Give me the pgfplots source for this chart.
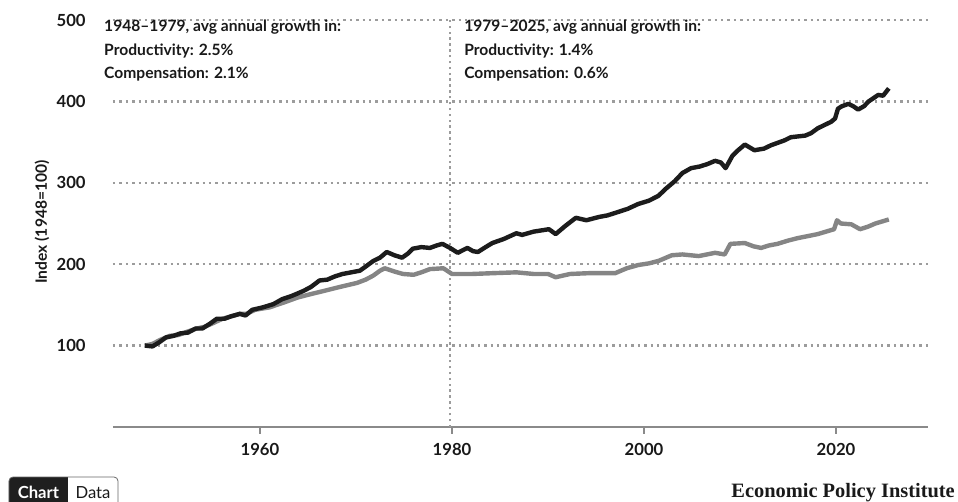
\documentclass[border=0pt]{standalone}
\usepackage{pgfplots}
\pgfplotsset{compat=1.18}
\usepackage{fontspec}
\setmainfont{Lato}
\newfontfamily\logofont{Liberation Serif}
\definecolor{prodc}{HTML}{1C1C1C}
\definecolor{compc}{HTML}{858585}
\definecolor{gridc}{HTML}{9C9C9C}
\definecolor{axc}{HTML}{8A8A8A}
\begin{document}
\begin{tikzpicture}
\path[use as bounding box] (-84.75pt,-55.5pt) rectangle (633.75pt,320.25pt);
\begin{axis}[
  at={(0,0)}, anchor=south west,
  scale only axis, width=611.25pt, height=305.25pt,
  xmin=1944.69, xmax=2029.58, ymin=0, ymax=500,
  axis x line*=bottom, axis y line*=left,
  x axis line style={draw=axc, line width=0.9pt},
  y axis line style={draw=none},
  xtick={1960,1980,2000,2020},
  ytick={100,200,300,400,500},
  xtick style={draw=axc, line width=0.9pt},
  ytick style={draw=none},
  tick align=outside,
  major tick length=5pt,
  ymajorgrids,
  grid style={draw=gridc, line width=1.8pt, dash pattern=on 1.8pt off 3pt},
  /pgf/number format/assume math mode=true,
  /pgf/number format/1000 sep={},
  tick label style={font=\fontsize{12.5}{14}\selectfont\bfseries, text=black!90},
  xticklabel style={yshift=-4pt},
  yticklabel style={xshift=-12pt},
  clip=false,
]
\addplot[draw=gridc, line width=1.8pt, dash pattern=on 1.8pt off 2.6pt] coordinates {(1979.8,0) (1979.8,504)};
\addplot[compc, line width=3.3pt, line join=round] coordinates {
(1948.0,100) (1948.8,102) (1949.6,107) (1950.6,112) (1951.5,113) (1952.4,117) (1953.4,121) (1954.2,123) (1955.0,127) (1956.1,133) (1957.0,136) (1957.9,139) (1958.6,139) (1959.5,144) (1961.0,147) (1962.5,153) (1963.9,159) (1965.2,163) (1966.6,167) (1968.3,172) (1970.1,177) (1971.0,181) (1971.8,186) (1972.5,192) (1973.0,195) (1974.0,191) (1974.9,188) (1976.0,187) (1976.8,190) (1977.7,194) (1979.1,195) (1980.0,188) (1981.0,188) (1982.1,188) (1984.3,189) (1986.7,190) (1988.5,188) (1990.0,188) (1990.8,184) (1992.3,188) (1994.3,189) (1995.6,189) (1997.0,189) (1998.2,195) (1999.4,199) (2000.5,201) (2001.5,204) (2002.9,211) (2004.0,212) (2005.7,210) (2007.4,214) (2008.4,212) (2009.0,225) (2010.5,226) (2011.4,222) (2012.2,220) (2013.0,223) (2013.9,225) (2015.0,229) (2016.0,232) (2018.1,237) (2019.8,243) (2020.1,254) (2020.5,250) (2021.6,249) (2022.5,243) (2023.3,246) (2024.1,250) (2025.5,255)
};
\addplot[prodc, line width=3.3pt, line join=round] coordinates {
(1948.0,100) (1948.8,99) (1949.5,104) (1950.2,110) (1951.0,112) (1951.7,115) (1952.5,116) (1953.3,121) (1954.0,121) (1954.8,127) (1955.5,133) (1956.3,133) (1957.0,136) (1957.9,139) (1958.5,137) (1959.2,144) (1960.3,147) (1961.4,151) (1962.3,157) (1963.3,161) (1964.5,167) (1965.3,172) (1966.2,180) (1967.0,181) (1967.8,185) (1968.6,188) (1969.5,190) (1970.4,192) (1971.0,197) (1971.8,204) (1972.5,208) (1973.2,215) (1974.0,211) (1974.8,208) (1975.4,213) (1975.9,219) (1976.8,221) (1977.7,220) (1978.4,223) (1979.0,225) (1979.8,220) (1980.6,214) (1981.6,220) (1982.2,216) (1982.7,215) (1983.5,221) (1984.2,226) (1985.4,231) (1986.7,238) (1987.3,236) (1988.5,240) (1990.1,243) (1990.8,237) (1991.8,247) (1992.9,257) (1994.0,254) (1995.3,258) (1996.2,260) (1997.0,263) (1998.3,268) (1999.4,274) (2000.5,278) (2001.5,284) (2002.3,293) (2003.2,302) (2004.0,312) (2004.9,318) (2005.8,320) (2006.6,323) (2007.4,327) (2008.0,325) (2008.5,318) (2009.2,333) (2009.8,340) (2010.5,347) (2011.5,340) (2012.5,342) (2013.2,346) (2013.9,349) (2014.6,352) (2015.3,356) (2016.8,358) (2017.4,361) (2018.1,367) (2019.5,375) (2019.9,379) (2020.2,391) (2020.6,394) (2021.3,397) (2021.8,394) (2022.3,390) (2022.9,394) (2023.4,400) (2024.4,408) (2024.9,407) (2025.5,416)
};
\begin{scope}[every node/.style={anchor=base west, inner sep=0pt, font=\fontsize{11.7}{13}\selectfont\bfseries, text=black!90}]
\node at (axis cs:1943.75,485.3) {1948–1979, avg annual growth in:};
\node at (axis cs:1943.75,457) {Productivity: 2.5\%};
\node at (axis cs:1943.75,428.7) {Compensation: 2.1\%};
\node at (axis cs:1981.25,485.3) {1979–2025, avg annual growth in:};
\node at (axis cs:1981.25,457) {Productivity: 1.4\%};
\node at (axis cs:1981.25,428.7) {Compensation: 0.6\%};
\end{scope}
\end{axis}
\node[rotate=90, anchor=center, inner sep=0pt, text=black!90, font=\fontsize{11.7}{13}\selectfont\bfseries] at (-53.25pt,153.75pt) {Index (1948=100)};
% Chart/Data toggle
\fill[black!88, rounded corners=3pt] (-78pt,-60pt) rectangle (-33.75pt,-37.5pt);
\fill[black!88] (-40pt,-60pt) rectangle (-33.75pt,-37.5pt);
\draw[black!60, line width=0.6pt, rounded corners=3pt] (-78pt,-60pt) rectangle (3.75pt,-37.5pt);
\node[anchor=base, inner sep=0pt, text=white, font=\fontsize{12.5}{14}\selectfont\bfseries] at (-55.9pt,-53.5pt) {Chart};
\node[anchor=base, inner sep=0pt, text=black!90, font=\fontsize{12.5}{14}\selectfont] at (-15pt,-53.5pt) {Data};
\node[anchor=base east, inner sep=0pt, text=black!90, font=\logofont\fontsize{15.3}{17}\selectfont\bfseries] at (631.5pt,-53pt) {Economic Policy Institute};
\end{tikzpicture}
\end{document}
